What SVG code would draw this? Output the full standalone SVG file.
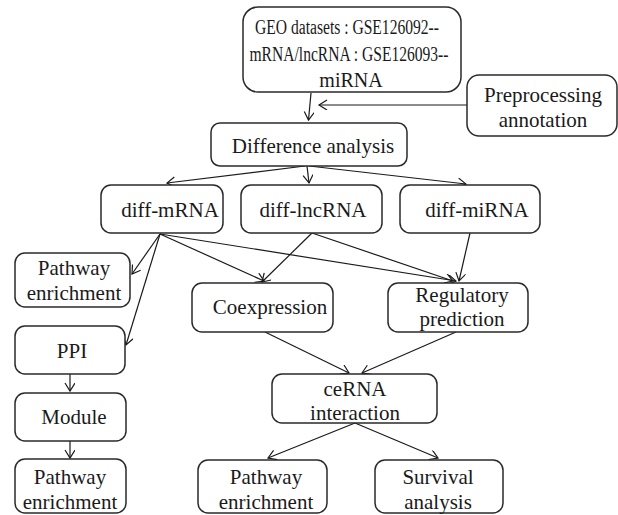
<svg xmlns="http://www.w3.org/2000/svg" width="618" height="515" viewBox="0 0 618 515">
<defs>
<style>
.box{fill:#fff;stroke:#2a2a2a;stroke-width:1.5}
.t{font-family:"Liberation Serif","Times New Roman",serif;font-size:21px;fill:#1a1a1a;text-anchor:middle}
.tg{font-size:20px}
.c{fill:none;stroke:#1a1a1a;stroke-width:1.2;marker-end:url(#ah)}
</style>
<marker id="ah" markerUnits="userSpaceOnUse" markerWidth="12" markerHeight="12" refX="9" refY="5" orient="auto">
<path d="M1,0 L9,5 L1,10" fill="none" stroke="#1a1a1a" stroke-width="1.2"/>
</marker>
</defs>
<rect width="618" height="515" fill="#fff"/>
<g id="connectors">
<path class="c" d="M311,93 L308.5,120"/>
<path class="c" d="M467,105 L319,105"/>
<path class="c" d="M305,166 L167,183"/>
<path class="c" d="M307,166 L309,183"/>
<path class="c" d="M309,166 L466,184"/>
<path class="c" d="M160,234 L132,274"/>
<path class="c" d="M160,234 L126,345"/>
<path class="c" d="M160,234 L264,281"/>
<path class="c" d="M160,234 L456,281"/>
<path class="c" d="M312,233 L262,282"/>
<path class="c" d="M312,233 L453,281"/>
<path class="c" d="M470,233 L459,281"/>
<path class="c" d="M265,332 L349,373"/>
<path class="c" d="M456,332 L362,373"/>
<path class="c" d="M70,374 L70,391"/>
<path class="c" d="M70,441 L70,458"/>
<path class="c" d="M355,423 L268,458"/>
<path class="c" d="M355,423 L438,458"/>
</g>
<g id="geo">
<rect class="box" x="243" y="7" width="218" height="85" rx="15"/>
<text class="t tg" x="347" y="34" textLength="184" lengthAdjust="spacingAndGlyphs">GEO datasets : GSE126092--</text>
<text class="t tg" x="349" y="61" textLength="199" lengthAdjust="spacingAndGlyphs">mRNA/lncRNA : GSE126093--</text>
<text class="t tg" x="351" y="87">miRNA</text>
</g>
<g id="preprocessing">
<rect class="box" x="467" y="75" width="150" height="61" rx="12"/>
<text class="t" x="543" y="102">Preprocessing</text>
<text class="t" x="543" y="127">annotation</text>
</g>
<g id="difference">
<rect class="box" x="211" y="123" width="196" height="43" rx="9"/>
<text class="t" x="313" y="153">Difference analysis</text>
</g>
<g id="diff-mrna">
<rect class="box" x="101" y="185" width="122" height="48" rx="10"/>
<text class="t" x="170" y="217">diff-mRNA</text>
</g>
<g id="diff-lncrna">
<rect class="box" x="241" y="185" width="141" height="48" rx="10"/>
<text class="t" x="313" y="217">diff-lncRNA</text>
</g>
<g id="diff-mirna">
<rect class="box" x="400" y="185" width="140" height="48" rx="10"/>
<text class="t" x="477" y="217">diff-miRNA</text>
</g>
<g id="pathway1">
<rect class="box" x="15" y="253" width="115" height="54" rx="10"/>
<text class="t" x="74" y="275">Pathway</text>
<text class="t" x="74" y="300">enrichment</text>
</g>
<g id="coexpression">
<rect class="box" x="192" y="283" width="141" height="49" rx="10"/>
<text class="t" x="270" y="314">Coexpression</text>
</g>
<g id="regulatory">
<rect class="box" x="388" y="283" width="140" height="49" rx="10"/>
<text class="t" x="462" y="302">Regulatory</text>
<text class="t" x="462" y="326">prediction</text>
</g>
<g id="ppi">
<rect class="box" x="15" y="326" width="110" height="48" rx="10"/>
<text class="t" x="72" y="358">PPI</text>
</g>
<g id="module">
<rect class="box" x="15" y="393" width="111" height="48" rx="10"/>
<text class="t" x="74" y="424">Module</text>
</g>
<g id="pathway2">
<rect class="box" x="15" y="459" width="111" height="54" rx="10"/>
<text class="t" x="70" y="484">Pathway</text>
<text class="t" x="70" y="509">enrichment</text>
</g>
<g id="cerna">
<rect class="box" x="272" y="374" width="165" height="49" rx="10"/>
<text class="t" x="355" y="396">ceRNA</text>
<text class="t" x="355" y="420">interaction</text>
</g>
<g id="pathway3">
<rect class="box" x="198" y="460" width="129" height="53" rx="10"/>
<text class="t" x="266" y="484">Pathway</text>
<text class="t" x="266" y="509">enrichment</text>
</g>
<g id="survival">
<rect class="box" x="375" y="460" width="128" height="53" rx="10"/>
<text class="t" x="438" y="484">Survival</text>
<text class="t" x="438" y="509">analysis</text>
</g>
</svg>
